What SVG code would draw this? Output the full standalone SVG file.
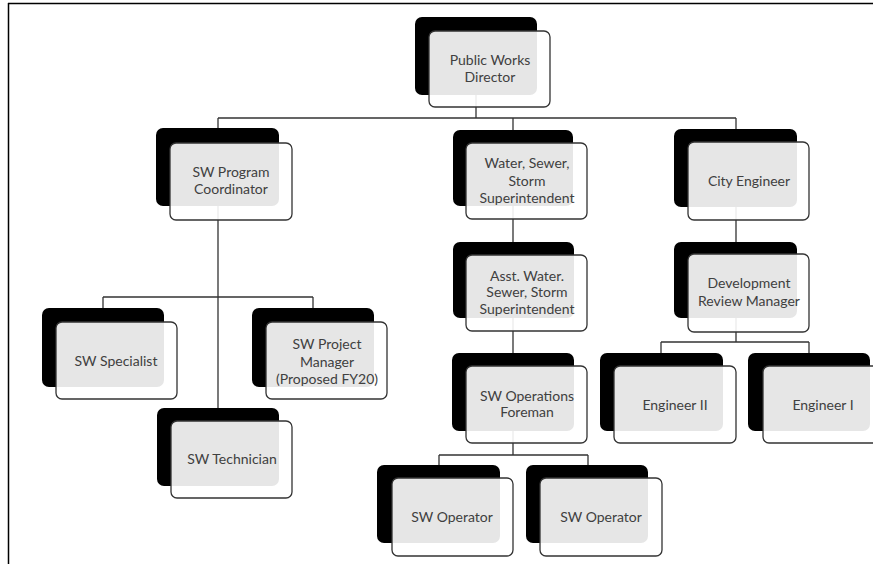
<svg xmlns="http://www.w3.org/2000/svg" width="873" height="564" viewBox="0 0 873 564">
<style>
.bk{fill:#000;}
.fr{fill:#fff;fill-opacity:0.9;stroke:#333;stroke-width:1.3;}
.ln{fill:none;stroke:#333;stroke-width:1.3;}
text{font-family:Lato,"Open Sans","Liberation Sans",sans-serif;font-size:14px;fill:#404040;text-anchor:middle;}
</style>
<rect x="0" y="0" width="873" height="564" fill="#fff"/>
<path d="M8,3.5 H873 M8.5,3 V564" fill="none" stroke="#000" stroke-width="1.5"/>
<g id="connectors" class="ln">
<path d="M476,95 V118 M218,118 H736 M218,118 V408 M513,118 V130 M736,118 V130"/>
<path d="M103,297 H313 M103,297 V308 M313,297 V308"/>
<path d="M513,206 V353 M439,455 H588 M439,455 V465 M588,455 V465 M513,430 V455"/>
<path d="M736,207 V342 M661,342 H809 M661,342 V353 M809,342 V353"/>
</g>
<g id="n-director"><rect class="bk" x="415" y="17" width="122" height="78" rx="7"/><rect class="fr" x="429" y="31" width="121" height="76" rx="6"/><text x="490" y="65">Public Works</text><text x="490" y="82">Director</text></g>
<g id="n-swpc"><rect class="bk" x="156" y="128" width="123" height="78" rx="7"/><rect class="fr" x="170" y="143" width="122" height="77" rx="6"/><text x="231" y="177">SW Program</text><text x="231" y="194">Coordinator</text></g>
<g id="n-wss"><rect class="bk" x="453" y="130" width="120" height="76" rx="7"/><rect class="fr" x="466" y="143" width="121" height="76" rx="6"/><text x="527" y="168">Water, Sewer,</text><text x="527" y="186">Storm</text><text x="527" y="203">Superintendent</text></g>
<g id="n-city"><rect class="bk" x="674" y="129" width="123" height="78" rx="7"/><rect class="fr" x="688" y="142" width="121" height="78" rx="6"/><text x="749" y="186">City Engineer</text></g>
<g id="n-asst"><rect class="bk" x="453" y="242" width="121" height="76" rx="7"/><rect class="fr" x="466" y="255" width="121" height="76" rx="6"/><text x="527" y="281">Asst. Water.</text><text x="527" y="297">Sewer, Storm</text><text x="527" y="314">Superintendent</text></g>
<g id="n-devrev"><rect class="bk" x="674" y="242" width="123" height="76" rx="7"/><rect class="fr" x="688" y="254" width="121" height="78" rx="6"/><text x="749" y="288">Development</text><text x="749" y="306">Review Manager</text></g>
<g id="n-swspec"><rect class="bk" x="42" y="308" width="122" height="79" rx="7"/><rect class="fr" x="56" y="322" width="121" height="77" rx="6"/><text x="116" y="366">SW Specialist</text></g>
<g id="n-swpm"><rect class="bk" x="252" y="308" width="122" height="79" rx="7"/><rect class="fr" x="266" y="322" width="121" height="77" rx="6"/><text x="327" y="349">SW Project</text><text x="327" y="367">Manager</text><text x="327" y="384">(Proposed FY20)</text></g>
<g id="n-swtech"><rect class="bk" x="157" y="408" width="122" height="78" rx="7"/><rect class="fr" x="171" y="421" width="121" height="77" rx="6"/><text x="232" y="464">SW Technician</text></g>
<g id="n-swops"><rect class="bk" x="452" y="353" width="122" height="78" rx="7"/><rect class="fr" x="466" y="366" width="121" height="77" rx="6"/><text x="527" y="401">SW Operations</text><text x="527" y="417">Foreman</text></g>
<g id="n-eng2"><rect class="bk" x="600" y="353" width="123" height="78" rx="7"/><rect class="fr" x="614" y="366" width="122" height="77" rx="6"/><text x="675" y="410">Engineer II</text></g>
<g id="n-eng1"><rect class="bk" x="748" y="353" width="122" height="78" rx="7"/><rect class="fr" x="763" y="366" width="122" height="77" rx="6"/><text x="823" y="410">Engineer I</text></g>
<g id="n-op1"><rect class="bk" x="377" y="465" width="123" height="78" rx="7"/><rect class="fr" x="392" y="478" width="121" height="78" rx="6"/><text x="452" y="522">SW Operator</text></g>
<g id="n-op2"><rect class="bk" x="526" y="465" width="122" height="78" rx="7"/><rect class="fr" x="540" y="478" width="122" height="78" rx="6"/><text x="601" y="522">SW Operator</text></g>
</svg>
